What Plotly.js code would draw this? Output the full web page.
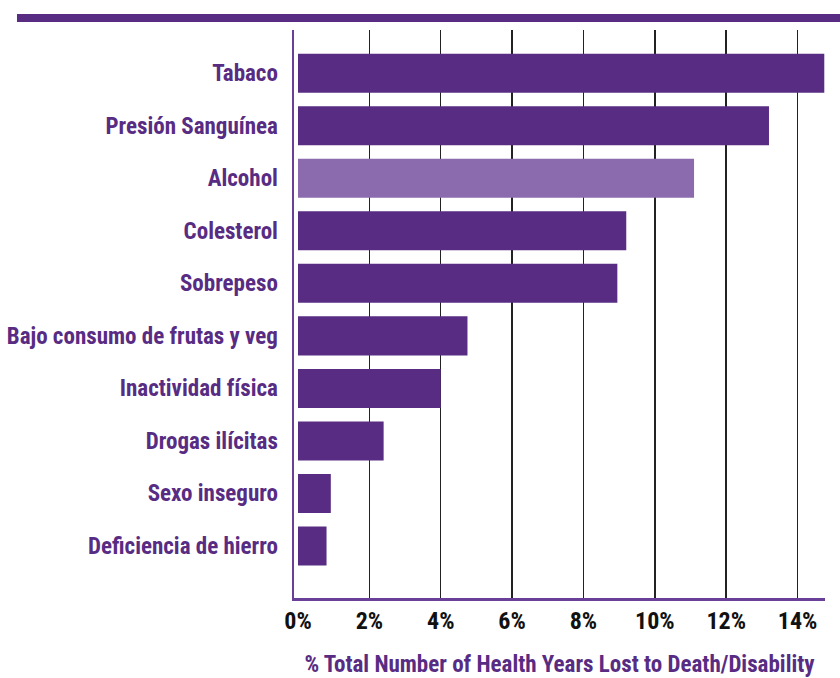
<!DOCTYPE html>
<html>
<head>
<meta charset="utf-8">
<script src="https://cdn.plot.ly/plotly-3.0.1.min.js"></script>
<style>html,body{margin:0;padding:0;background:#fff;}#chart{width:840px;height:678px;}</style>
</head>
<body>
<div id="chart"></div>
<script>
var categories = ["Tabaco", "Presión Sanguínea", "Alcohol", "Colesterol", "Sobrepeso",
  "Bajo consumo de frutas y veg", "Inactividad física", "Drogas ilícitas", "Sexo inseguro", "Deficiencia de hierro"];
var values = [14.75, 13.2, 11.1, 9.2, 8.95, 4.75, 4.0, 2.4, 0.92, 0.8];
var tickVals = [0, 2, 4, 6, 8, 10, 12, 14];
var tickText = ["0%", "2%", "4%", "6%", "8%", "10%", "12%", "14%"];

var dark = "#582C83", light = "#8B6BAE";
var colors = categories.map(function (c) { return c === "Alcohol" ? light : dark; });
var FONT = "Roboto Condensed, Liberation Sans Narrow, Roboto, sans-serif";

var trace = {
  type: "bar", orientation: "h",
  x: values, y: categories.map(function (c, i) { return i; }),
  marker: { color: colors, line: { width: 0 } },
  width: 0.743, hoverinfo: "skip"
};

var layout = {
  width: 840, height: 678,
  margin: { l: 294, r: 15, t: 30, b: 80, pad: 0 },
  paper_bgcolor: "#fff", plot_bgcolor: "#fff",
  showlegend: false,
  xaxis: {
    range: [-0.112, 14.77],
    tickvals: tickVals, ticktext: tickText,
    showgrid: true, gridcolor: "#222", gridwidth: 1.5,
    zeroline: true, zerolinecolor: "#fff", zerolinewidth: 2,
    showline: true, linecolor: "#6a3f98", linewidth: 2.5,
    ticks: "", ticklabelstandoff: 0,
    tickfont: { family: FONT, size: 24, color: "#111", weight: 700 },
    title: { text: "% Total Number of Health Years Lost to Death/Disability", standoff: 22,
      font: { family: FONT, size: 23, color: dark, weight: 700 } },
    fixedrange: true
  },
  yaxis: {
    range: [9.991, -0.824],
    tickvals: categories.map(function (c, i) { return i; }), ticktext: categories,
    showgrid: false, zeroline: false,
    showline: true, linecolor: "#6a3f98", linewidth: 2.5,
    ticks: "", ticklabelstandoff: 9,
    tickfont: { family: FONT, size: 23, color: dark, weight: 700 },
    fixedrange: true
  },
  shapes: [{
    type: "line", xref: "paper", yref: "paper",
    x0: -0.5217, x1: 1.03, y0: 1.0211, y1: 1.0211,
    line: { color: dark, width: 8 }
  }]
};

Plotly.newPlot("chart", [trace], layout, { displayModeBar: false, staticPlot: true });
</script>
</body>
</html>
